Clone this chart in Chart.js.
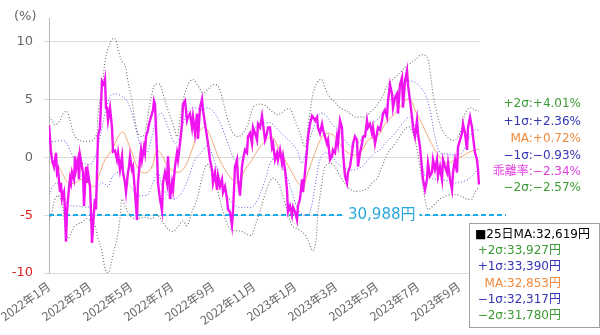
<!DOCTYPE html>
<html lang="ja">
<head>
<meta charset="UTF-8">
<title>25日移動平均乖離率</title>
<script src="https://cdn.jsdelivr.net/npm/chart.js"></script>
<style>
    body { margin: 0; background: #fff; }
    #wrap { width: 600px; height: 335px; position: relative; }
</style>
</head>
<body>
<div id="wrap"><canvas id="devChart"></canvas></div>
<script>
// 営業日 (0 = 2022年1月初), 1か月 ≒ 20.5営業日
const DAYS_PER_MONTH = 20.5;
const tickLabels = ['2022年1月', '2022年3月', '2022年5月', '2022年7月', '2022年9月', '2022年11月',
                    '2023年1月', '2023年3月', '2023年5月', '2023年7月', '2023年9月'];
const yTicks = [-10, -5, 0, 5, 10];

// 乖離率 (%) [営業日, 値]
const deviation = [[0,2.8],[2,0.5],[3,-0.2],[5,-0.8],[7,0.4],[8,-1.3],[9,-1.05],[11,-3.0],[12,-2.2],[13,-3.6],[15,-3.0],[16,-4.7],[17,-7.3],[18,-4.7],[19,-3.6],[21,-1.8],[22,-2.2],[23,-1.3],[25,-1.9],[26,0.1],[27,-1.05],[29,-0.2],[30,-1.9],[31,0.2],[33,-0.8],[34,-1.3],[35,-4.2],[37,-0.8],[38,-2.2],[39,-1.3],[41,-2.5],[42,-4.7],[43,-7.4],[45,-4.7],[46,-3.6],[47,-4.5],[49,1.8],[51,2.6],[53,6.6],[55,6.3],[56,6.75],[57,4.3],[58,4.3],[59,3.2],[61,4.3],[63,2.6],[64,0.5],[66,0.6],[68,-0.2],[69,0.4],[71,-1.05],[73,0.1],[74,-1.3],[76,-2.2],[77,-3.0],[79,-1.3],[80,-0.8],[81,0.1],[83,-1.05],[84,-0.8],[86,-3.0],[88,-5.4],[89,-2.2],[91,-0.2],[92,0.6],[93,-0.2],[95,0.9],[96,0.4],[97,1.8],[99,2.4],[100,2.9],[101,3.2],[103,3.8],[104,4.1],[105,4.9],[106,4.6],[108,0.4],[109,-2.2],[111,-3.6],[113,-4.6],[114,-2.2],[116,-1.3],[118,-2.2],[119,0.1],[121,-3.6],[123,-2.2],[124,-2.8],[126,-0.8],[128,0.4],[129,-0.2],[131,1.2],[133,2.9],[134,4.6],[136,4.9],[138,3.2],[139,3.5],[141,3.8],[143,2.6],[144,3.5],[146,2.1],[148,3.8],[149,1.6],[151,4.3],[153,5.05],[154,4.1],[156,2.9],[158,1.8],[159,1.2],[161,-0.2],[163,-1.05],[164,-2.2],[166,-1.3],[168,-2.8],[169,-1.6],[171,-2.5],[173,-1.9],[174,-3.0],[176,-2.5],[178,-3.6],[179,-4.5],[181,-4.7],[183,-5.9],[184,-4.7],[186,-0.8],[188,-0.2],[189,-1.9],[191,-3.3],[193,-0.8],[194,-0.2],[196,0.65],[198,0.4],[199,1.8],[201,2.1],[203,1.2],[204,2.6],[206,2.1],[208,1.5],[209,2.9],[211,2.6],[213,3.6],[214,2.9],[216,1.5],[218,2.1],[219,2.6],[221,2.6],[223,0.9],[224,1.2],[226,-0.2],[228,0.4],[229,-0.2],[231,0.65],[233,-0.5],[234,0.1],[236,-1.05],[238,-2.8],[239,-4.7],[241,-4.2],[243,-5.0],[244,-4.3],[246,-4.7],[248,-5.4],[249,-4.2],[251,-3.6],[253,-1.9],[254,-3.0],[256,-1.3],[258,0.65],[259,1.8],[261,2.9],[263,3.6],[264,3.5],[266,3.2],[268,3.5],[269,2.6],[271,2.1],[273,2.9],[274,2.4],[276,1.8],[278,1.2],[279,1.5],[281,-0.2],[283,0.1],[284,0.65],[286,0.4],[288,1.8],[289,1.2],[291,3.2],[293,2.6],[294,0.4],[296,-1.6],[298,-2.2],[299,-1.3],[301,-0.8],[303,0.4],[304,1.2],[306,1.8],[308,1.5],[309,-0.8],[311,0.4],[313,1.2],[314,1.8],[316,1.8],[318,3.2],[319,2.6],[321,2.9],[323,2.1],[324,2.6],[326,1.2],[328,2.1],[329,2.6],[331,2.4],[333,3.2],[334,3.8],[336,4.1],[338,3.5],[339,4.9],[341,6.3],[343,5.5],[344,4.3],[346,5.2],[348,5.5],[349,3.8],[351,6.3],[353,6.9],[354,4.3],[356,6.6],[358,7.5],[359,6.3],[361,4.9],[363,3.5],[364,2.6],[366,1.8],[368,3.2],[369,2.1],[371,0.9],[373,-1.05],[374,-1.9],[376,-2.8],[378,-1.9],[379,-0.5],[381,-1.6],[383,-1.3],[384,-0.2],[386,-1.05],[388,-0.2],[389,-1.6],[391,-0.8],[393,-1.9],[394,-0.2],[396,-0.8],[398,-1.3],[399,-0.5],[401,-1.9],[403,-2.8],[404,-1.3],[406,-0.2],[408,-1.3],[409,0.9],[411,1.5],[413,2.1],[414,2.9],[416,2.1],[418,0.65],[419,2.6],[421,3.5],[423,2.6],[424,1.8],[426,0.4],[428,-0.2],[429,-1.05],[430,-2.34]];

// 乖離率の移動平均とボリンジャーバンド
const maLine = [[0,-0.5],[6,-0.4],[13,-1.3],[19,-2.2],[26,-2.2],[33,-1.9],[39,-2.2],[46,-2.5],[51,-1.3],[56,-0.2],[63,0.65],[69,1.8],[74,2.2],[78,1.5],[83,0.4],[88,-0.8],[93,-1.3],[98,-1.3],[103,-0.8],[108,0.6],[113,0.2],[119,-0.8],[129,-1.3],[136,-0.8],[143,0.65],[149,2.1],[156,2.6],[163,1.5],[169,0.1],[176,-1.05],[183,-1.9],[189,-2.2],[196,-1.05],[203,-0.2],[209,0.65],[216,1.4],[223,1.8],[229,0.9],[236,-0.2],[243,-1.3],[249,-2.2],[254,-2.5],[259,-1.3],[266,0.4],[273,1.8],[279,2.1],[286,1.8],[293,0.9],[299,0.4],[306,0.2],[313,0.6],[319,1.5],[326,1.8],[331,2.1],[336,2.9],[346,3.8],[356,4.9],[361,5.05],[366,4.1],[373,2.9],[379,1.8],[386,0.65],[393,-0.2],[399,-0.5],[406,-0.2],[413,0.1],[419,0.4],[426,0.65],[430,0.72]];
const plus1 = [[0,1.3],[6,1.4],[16,1.4],[19,1.0],[26,-0.2],[33,-0.5],[43,-0.5],[51,1.8],[56,3.8],[61,5.3],[66,5.5],[73,5.3],[78,4.9],[83,3.8],[88,2.1],[93,0.65],[98,0.4],[103,1.8],[108,3.5],[113,3.8],[119,2.6],[126,1.2],[131,1.8],[136,3.5],[141,4.2],[146,4.3],[153,4.1],[159,4.3],[166,3.8],[173,2.6],[179,1.2],[186,-0.2],[193,0.1],[199,1.5],[206,2.6],[213,2.9],[221,3.0],[229,2.4],[236,1.8],[243,1.2],[248,0.65],[253,-0.5],[259,1.2],[266,2.9],[271,3.8],[276,3.7],[283,2.9],[289,2.4],[296,1.5],[303,0.9],[309,1.2],[316,2.1],[323,2.9],[331,3.5],[336,4.3],[346,5.5],[356,6.5],[363,6.6],[369,6.3],[376,5.5],[381,4.1],[386,1.8],[391,0.4],[398,0.3],[406,0.2],[413,0.4],[419,1.5],[426,2.4],[430,2.36]];
const minus1 = [[0,-3.2],[4,-2.5],[8,-2.2],[13,-2.8],[18,-4.0],[23,-4.2],[29,-4.2],[36,-4.3],[43,-4.2],[46,-3.6],[49,-2.5],[54,-2.2],[59,-2.5],[64,-1.6],[69,-1.3],[74,-1.6],[79,-2.2],[84,-2.8],[89,-3.3],[94,-3.3],[99,-3.2],[104,-2.2],[109,-1.3],[113,-2.5],[119,-3.3],[126,-3.6],[133,-3.0],[139,-1.9],[146,-0.2],[153,0.5],[158,1.0],[163,0.3],[169,-1.3],[176,-3.0],[183,-3.9],[189,-4.3],[196,-4.3],[203,-4.3],[209,-3.6],[216,-2.0],[223,-0.2],[229,-0.5],[236,-1.3],[243,-3.0],[249,-4.5],[256,-5.0],[261,-4.7],[266,-2.5],[271,-0.2],[276,0.4],[283,0.1],[288,-0.5],[293,-0.8],[299,-1.05],[306,-1.05],[313,-0.8],[319,-0.2],[326,0.4],[331,0.65],[336,1.2],[346,2.1],[356,3.2],[361,3.5],[366,2.6],[371,0.65],[376,-1.6],[381,-1.8],[389,-1.9],[398,-2.0],[406,-2.2],[413,-2.1],[419,-1.9],[426,-1.3],[430,-0.93]];
const plus2 = [[0,3.5],[3,3.2],[6,2.8],[11,3.2],[14,3.8],[18,4.0],[21,3.2],[26,1.8],[33,1.4],[39,1.4],[44,1.5],[48,2.1],[49,3.8],[53,6.0],[56,8.3],[59,9.4],[63,10.2],[66,10.3],[69,9.4],[73,8.3],[76,8.0],[79,6.6],[83,4.9],[86,3.2],[89,2.1],[93,1.8],[96,2.1],[99,3.8],[103,5.5],[106,6.3],[111,6.3],[114,5.5],[119,4.1],[124,2.9],[128,1.8],[131,3.2],[134,4.9],[139,6.3],[144,6.75],[149,6.2],[154,5.6],[159,5.9],[164,6.3],[169,6.2],[174,4.9],[179,3.2],[184,2.1],[189,1.8],[194,2.1],[199,2.9],[204,4.3],[209,4.6],[216,4.5],[223,4.0],[229,3.7],[236,4.1],[241,4.2],[246,3.2],[251,2.1],[256,0.9],[259,2.6],[264,5.5],[269,6.6],[273,6.75],[276,6.0],[281,5.2],[286,4.8],[291,4.3],[296,4.1],[301,3.8],[306,3.5],[311,3.5],[316,3.5],[321,3.9],[326,4.3],[333,5.2],[339,6.3],[346,6.9],[353,7.5],[359,8.0],[366,8.45],[373,8.9],[378,8.7],[381,7.5],[384,5.5],[388,3.8],[393,2.4],[398,1.8],[403,1.5],[408,1.65],[413,2.6],[416,3.8],[421,4.3],[426,4.1],[430,4.01]];
const minus2 = [[0,-5.4],[3,-4.7],[6,-3.6],[9,-3.3],[13,-3.9],[16,-5.9],[19,-7.0],[23,-6.4],[26,-5.9],[33,-5.6],[38,-5.3],[43,-5.6],[46,-5.9],[49,-7.0],[53,-8.1],[56,-9.6],[59,-10.0],[61,-9.6],[64,-8.4],[68,-7.0],[71,-5.3],[73,-3.6],[76,-4.2],[79,-4.7],[83,-5.2],[88,-5.3],[93,-5.2],[98,-5.2],[103,-5.3],[108,-5.0],[113,-5.5],[119,-6.2],[124,-6.4],[129,-6.0],[134,-5.5],[138,-5.9],[143,-4.7],[148,-3.6],[153,-1.8],[158,-0.6],[163,-1.3],[169,-3.0],[174,-4.7],[179,-5.9],[184,-6.3],[193,-6.4],[199,-6.7],[203,-6.7],[206,-5.9],[211,-4.7],[216,-3.2],[223,-1.8],[229,-2.2],[236,-3.9],[243,-5.9],[249,-6.2],[256,-6.7],[261,-7.6],[264,-8.1],[267,-7.2],[269,-4.7],[273,-2.2],[276,-0.8],[281,-0.5],[286,-0.8],[291,-1.6],[298,-2.5],[304,-2.9],[311,-2.9],[318,-2.7],[323,-2.2],[328,-1.8],[333,-0.8],[339,0.4],[346,1.2],[353,2.1],[358,2.6],[361,2.6],[366,1.5],[371,-0.8],[374,-2.5],[376,-3.6],[379,-4.5],[384,-4.2],[391,-3.6],[398,-3.3],[404,-3.2],[411,-3.3],[418,-3.6],[423,-3.6],[426,-3.0],[430,-2.57]];

// -5%ライン
const refLevel = -5;
const refLabel = '30,988円';

// 右側の最新値ラベル
const sideLabels = ['+2σ:+4.01%', '+1σ:+2.36%', 'MA:+0.72%', '−1σ:−0.93%', '乖離率:−2.34%', '−2σ:−2.57%'];
const sideColors = ['#3c9a34', '#3434b4', '#f08a3c', '#3434b4', '#e040e0', '#3c9a34'];

// 価格ボックス
const boxTitle = '■25日MA:32,619円';
const boxLabels = ['+2σ:33,927円', '+1σ:33,390円', 'MA:32,853円', '−1σ:32,317円', '−2σ:31,780円'];
const boxColors = ['#3c9a34', '#3434b4', '#f08a3c', '#3434b4', '#3c9a34'];

const FONT = "'DejaVu Sans', 'Noto Sans CJK JP', sans-serif";
const LABEL_FONT = "'Noto Sans CJK JP', 'DejaVu Sans', sans-serif";

function pts(arr) {
    return arr.map(([d, v]) => ({ x: d, y: v }));
}

const overlay = {
    id: 'overlay',
    beforeDatasetsDraw(chart) {
        const { ctx, chartArea, scales: { y } } = chart;
        const yy = Math.round(y.getPixelForValue(refLevel));
        ctx.save();
        ctx.strokeStyle = '#1eaee6';
        ctx.lineWidth = 2;
        ctx.setLineDash([5, 3]);
        ctx.beginPath();
        ctx.moveTo(chartArea.left, yy);
        ctx.lineTo(chartArea.right + 26, yy);
        ctx.stroke();
        ctx.restore();
    },
    afterDraw(chart) {
        const { ctx, scales: { y } } = chart;
        ctx.save();
        // 単位
        ctx.fillStyle = '#666';
        ctx.font = '13px ' + FONT;
        ctx.textBaseline = 'middle';
        ctx.textAlign = 'left';
        ctx.fillText('(%)', 14, 17);

        // -5%ラインのラベル
        const yy = y.getPixelForValue(refLevel);
        ctx.font = '15px ' + FONT;
        const w = ctx.measureText(refLabel).width;
        ctx.fillStyle = '#fff';
        ctx.fillRect(344, yy - 9, w + 8, 18);
        ctx.fillStyle = '#2aa8dc';
        ctx.fillText(refLabel, 348, yy);

        // 右側ラベル
        ctx.font = '12px ' + FONT;
        ctx.textAlign = 'right';
        const sideY = [104, 122, 139, 156, 172, 188];
        sideLabels.forEach((t, i) => {
            ctx.fillStyle = sideColors[i];
            ctx.fillText(t, 581, sideY[i]);
        });

        // 価格ボックス
        ctx.fillStyle = '#fff';
        ctx.fillRect(469.5, 223.5, 130, 104);
        ctx.strokeStyle = '#a0a0a0';
        ctx.lineWidth = 1;
        ctx.strokeRect(469.5, 223.5, 130, 104);
        ctx.font = '12px ' + FONT;
        ctx.textAlign = 'left';
        ctx.fillStyle = '#000';
        ctx.fillText(boxTitle, 475, 235);
        ctx.textAlign = 'right';
        boxLabels.forEach((t, i) => {
            ctx.fillStyle = boxColors[i];
            ctx.fillText(t, 561, 251 + i * 16.2);
        });
        ctx.restore();
    }
};

const bandLine = (data, color, dash, width) => ({
    data: pts(data),
    borderColor: color,
    borderWidth: width,
    borderDash: dash,
    pointRadius: 0,
    tension: 0.35,
    fill: false
});

new Chart(document.getElementById('devChart'), {
    type: 'line',
    data: {
        datasets: [
            Object.assign({ label: '乖離率', order: 0 }, {
                data: pts(deviation),
                borderColor: '#f014f0',
                borderWidth: 2.4,
                pointRadius: 0,
                tension: 0,
                fill: false
            }),
            Object.assign({ label: 'MA', order: 1 }, bandLine(maLine, '#f2a878', [], 1)),
            Object.assign({ label: '+1σ', order: 2 }, bandLine(plus1, '#5a5ae6', [1, 2], 1)),
            Object.assign({ label: '−1σ', order: 2 }, bandLine(minus1, '#5a5ae6', [1, 2], 1)),
            Object.assign({ label: '+2σ', order: 3 }, bandLine(plus2, '#6e6e6e', [1, 2], 1.1)),
            Object.assign({ label: '−2σ', order: 3 }, bandLine(minus2, '#6e6e6e', [1, 2], 1.1))
        ]
    },
    options: {
        responsive: true,
        maintainAspectRatio: false,
        animation: false,
        layout: { padding: { top: 15, right: 120, left: 0, bottom: 0 } },
        plugins: {
            legend: { display: false },
            tooltip: { enabled: false }
        },
        scales: {
            x: {
                type: 'linear',
                min: 0,
                max: 431,
                afterBuildTicks(scale) {
                    scale.ticks = tickLabels.map((l, i) => ({ value: i * 2 * DAYS_PER_MONTH }));
                },
                afterFit(scale) {
                    scale.height = 62;
                    scale.paddingLeft = 0;
                    scale.paddingRight = 0;
                },
                grid: { display: false, drawTicks: false },
                border: { display: false },
                ticks: {
                    autoSkip: false,
                    minRotation: 35,
                    maxRotation: 35,
                    padding: 6,
                    color: '#666',
                    font: { family: LABEL_FONT, size: 12 },
                    callback: (v, i) => tickLabels[i]
                }
            },
            y: {
                min: -10,
                max: 12,
                afterBuildTicks(scale) {
                    scale.ticks = yTicks.map(v => ({ value: v }));
                },
                afterFit(scale) { scale.width = 49; },
                grid: { color: '#dcdcdc', tickLength: 5, tickColor: '#dcdcdc' },
                border: { display: true, color: '#b8b8b8' },
                ticks: {
                    padding: 11,
                    color: ctx => (ctx.tick && ctx.tick.value < 0) ? '#e02020' : '#666',
                    font: { family: FONT, size: 13 },
                    callback: v => v
                }
            }
        }
    },
    plugins: [overlay]
});
</script>
</body>
</html>
